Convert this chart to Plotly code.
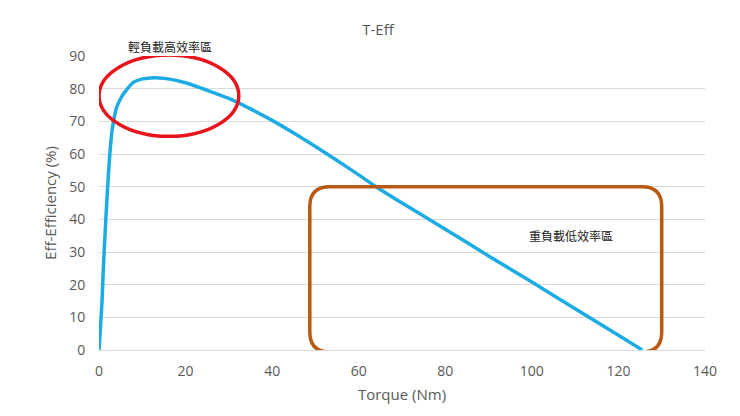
import plotly.graph_objects as go

torque = [0, 0.3, 0.7, 1, 1.5, 2, 2.5, 3, 3.5, 4, 5, 6, 8, 10, 12, 14, 16, 20, 25, 30, 35, 40, 45, 50, 55, 60, 64, 70, 80, 90, 100, 110, 120, 125.5]
eff = [0, 6, 15, 25, 38, 50, 60, 67, 71, 74, 77, 79, 82, 83, 83.3, 83.3, 83, 81.8, 79.5, 77, 73.8, 70.3, 66.4, 62.3, 58, 53.6, 50, 45, 37, 28.8, 20.8, 12.6, 4.5, 0]

fig = go.Figure()
fig.add_trace(go.Scatter(x=torque, y=eff, mode="lines", line=dict(color="#1cace3", width=3.5, shape="spline", smoothing=0.6), hoverinfo="skip"))

fig.add_shape(type="circle", xref="x", yref="y", x0=0, x1=32.3, y0=65.4, y1=90.3, line=dict(color="#e8141b", width=3.5))
x0, x1, y0, y1, rx, ry = 48.7, 130, -0.6, 50, 4.6, 6
path = (f"M {x0+rx},{y0} L {x1-rx},{y0} Q {x1},{y0} {x1},{y0+ry} L {x1},{y1-ry} Q {x1},{y1} {x1-rx},{y1} "
        f"L {x0+rx},{y1} Q {x0},{y1} {x0},{y1-ry} L {x0},{y0+ry} Q {x0},{y0} {x0+rx},{y0} Z")
fig.add_shape(type="path", xref="x", yref="y", path=path, line=dict(color="#b85a14", width=3.5))

fig.add_annotation(text="輕負載高效率區", x=16.5, y=1.0, xref="x", yref="paper", yshift=20, showarrow=False,
                   font=dict(family="Noto Sans CJK TC", size=12, color="#222"))
fig.add_annotation(text="重負載低效率區", x=109, y=35, xref="x", yref="y", showarrow=False,
                   font=dict(family="Noto Sans CJK TC", size=12, color="#222"))

fig.update_layout(
    width=740, height=416, paper_bgcolor="white", plot_bgcolor="white",
    margin=dict(l=91, r=43, t=48, b=74), showlegend=False,
    title=dict(text="T-Eff", x=0.5, y=0.96, xanchor="center", font=dict(family="Open Sans", size=15, color="#595959")),
    font=dict(family="Open Sans", color="#595959"),
    xaxis=dict(range=[0, 140], dtick=20, showgrid=False, showline=True, linecolor="#d9d9d9", automargin=False,
               ticks="outside", ticklen=8, tickcolor="white",
               title=dict(text="Torque (Nm)", font=dict(size=15), standoff=10), tickfont=dict(size=14), zeroline=False),
    yaxis=dict(range=[0, 90], dtick=10, gridcolor="#d9d9d9", showline=False, zeroline=False, automargin=False,
               ticks="outside", ticklen=10, tickcolor="white",
               title=dict(text="Eff-Efficiency (%)", font=dict(size=15), standoff=8), tickfont=dict(size=14)),
)
fig.write_html("out.html")
